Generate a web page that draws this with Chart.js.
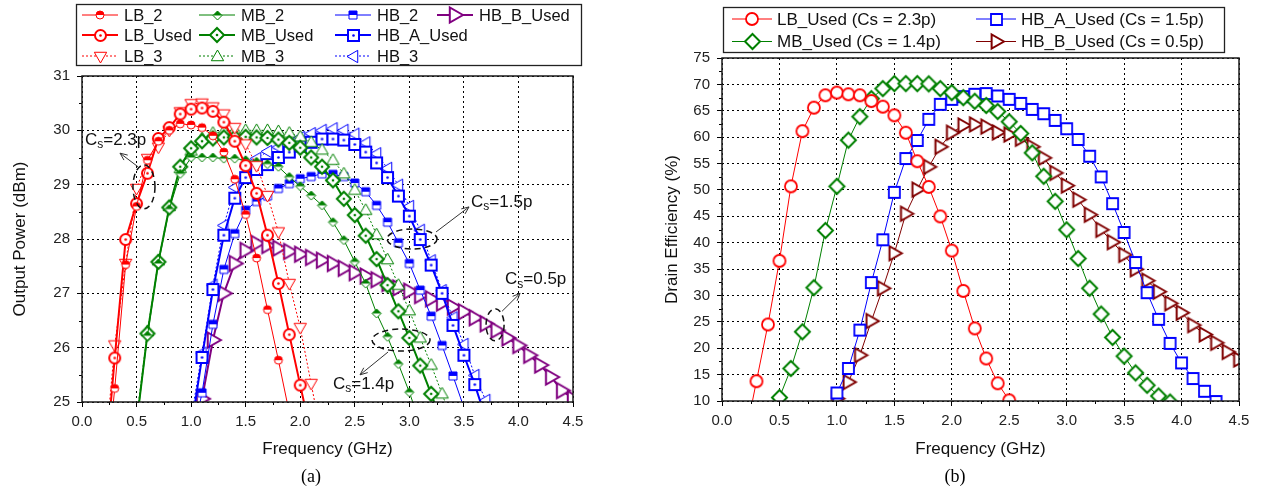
<!DOCTYPE html>
<html>
<head>
<meta charset="utf-8">
<script src="https://cdn.jsdelivr.net/npm/chart.js@4.4.0/dist/chart.umd.min.js"></script>
<style>
  body { margin: 0; background: #fff; width: 1266px; height: 491px; overflow: hidden; position: relative; }
  canvas { position: absolute; top: 0; }
  .cap { position: absolute; top: 466px; width: 40px; text-align: center; font: 18px "Liberation Serif", "Times New Roman", serif; color: #000; }
</style>
</head>
<body>
<canvas id="powerChart" width="633" height="491" style="left:0"></canvas>
<canvas id="effChart" width="633" height="491" style="left:633px"></canvas>
<div class="cap" style="left:291px">(a)</div>
<div class="cap" style="left:935px">(b)</div>
<script>
// ---- (a) output power, dBm ----
var lb2Freq = [0.2,0.3,0.4,0.5,0.6,0.7,0.8,0.9,1.0,1.1,1.2,1.3,1.4,1.5,1.6,1.7,1.8,1.9];
var lb2Pout = [23.2,25.25,27.53,28.6,29.45,29.8,30.0,30.12,30.1,30.05,29.9,29.6,29.1,28.45,27.65,26.7,25.77,24.8];
var lbUsedFreq = [0.2,0.3,0.4,0.5,0.6,0.7,0.8,0.9,1.0,1.1,1.2,1.3,1.4,1.5,1.6,1.7,1.8,1.9,2.0,2.1];
var lbUsedPout = [23.5,25.81,27.99,28.65,29.21,29.85,30.05,30.3,30.39,30.41,30.35,30.15,29.8,29.35,28.84,28.07,27.18,26.24,25.31,24.4];
var lb3Freq = [0.2,0.3,0.4,0.5,0.6,0.7,0.8,0.9,1.0,1.1,1.2,1.3,1.4,1.5,1.6,1.7,1.8,1.9,2.0,2.1,2.2];
var lb3Pout = [23.8,26.05,27.55,28.93,29.48,29.69,30.0,30.34,30.49,30.5,30.43,30.3,30.05,29.75,29.35,28.8,28.13,27.18,26.37,25.34,24.3];

var mb2Freq = [0.5,0.6,0.7,0.8,0.9,1.0,1.1,1.2,1.3,1.4,1.5,1.6,1.7,1.8,1.9,2.0,2.1,2.2,2.3,2.4,2.5,2.6,2.7,2.8,2.9,3.0,3.1];
var mb2Pout = [24.6,26.22,27.55,28.55,29.2,29.5,29.5,29.5,29.48,29.48,29.45,29.42,29.38,29.33,29.14,28.97,28.8,28.62,28.31,27.98,27.58,27.18,26.63,26.2,25.7,25.18,24.6];
var mbUsedFreq = [0.5,0.6,0.7,0.8,0.9,1.0,1.1,1.2,1.3,1.4,1.5,1.6,1.7,1.8,1.9,2.0,2.1,2.2,2.3,2.4,2.5,2.6,2.7,2.8,2.9,3.0,3.1,3.2,3.3];
var mbUsedPout = [24.6,26.26,27.58,28.58,29.33,29.67,29.8,29.85,29.87,29.87,29.88,29.87,29.86,29.83,29.77,29.68,29.5,29.33,29.08,28.74,28.44,28.06,27.63,27.15,26.67,26.18,25.67,25.15,24.6];
var mb3Freq = [0.5,0.6,0.7,0.8,0.9,1.0,1.1,1.2,1.3,1.4,1.5,1.6,1.7,1.8,1.9,2.0,2.1,2.2,2.3,2.4,2.5,2.6,2.7,2.8,2.9,3.0,3.1,3.2,3.3,3.4];
var mb3Pout = [24.7,26.3,27.6,28.6,29.3,29.62,29.85,29.95,29.98,30.0,30.0,30.0,30.0,29.98,29.95,29.88,29.78,29.64,29.45,29.2,28.9,28.53,28.08,27.62,27.15,26.68,26.18,25.68,25.15,24.6];

var hb2Freq = [1.0,1.1,1.2,1.3,1.4,1.5,1.6,1.7,1.8,1.9,2.0,2.1,2.2,2.3,2.4,2.5,2.6,2.7,2.8,2.9,3.0,3.1,3.2,3.3,3.4,3.5];
var hb2Pout = [24.2,25.17,26.43,27.44,28.1,28.53,28.69,28.79,28.93,29.02,29.11,29.15,29.2,29.19,29.15,29.03,28.87,28.62,28.31,27.93,27.55,27.06,26.58,26.04,25.48,24.9];
var hbAUsedFreq = [1.0,1.1,1.2,1.3,1.4,1.5,1.6,1.7,1.8,1.9,2.0,2.1,2.2,2.3,2.4,2.5,2.6,2.7,2.8,2.9,3.0,3.1,3.2,3.3,3.4,3.5,3.6,3.7];
var hbAUsedPout = [24.5,25.82,27.07,28.07,28.75,29.13,29.28,29.37,29.5,29.6,29.71,29.78,29.84,29.84,29.82,29.74,29.6,29.4,29.13,28.79,28.42,27.99,27.52,27.0,26.41,25.86,25.32,24.7];
var hb3Freq = [1.0,1.1,1.2,1.3,1.4,1.5,1.6,1.7,1.8,1.9,2.0,2.1,2.2,2.3,2.4,2.5,2.6,2.7,2.8,2.9,3.0,3.1,3.2,3.3,3.4,3.5,3.6,3.7,3.8];
var hb3Pout = [24.7,25.9,27.15,28.25,28.95,29.34,29.48,29.61,29.69,29.8,29.87,29.94,30.0,30.03,30.0,29.93,29.77,29.57,29.3,28.99,28.6,28.16,27.6,27.05,26.55,26.06,25.49,25.03,24.5];
var hbBUsedFreq = [1.0,1.1,1.2,1.3,1.4,1.5,1.6,1.7,1.8,1.9,2.0,2.1,2.2,2.3,2.4,2.5,2.6,2.7,2.8,2.9,3.0,3.1,3.2,3.3,3.4,3.5,3.6,3.7,3.8,3.9,4.0,4.1,4.2,4.3,4.4,4.5];
var hbBUsedPout = [23.8,25.06,26.14,27.0,27.55,27.79,27.92,27.88,27.83,27.77,27.72,27.66,27.61,27.55,27.46,27.38,27.32,27.25,27.18,27.1,27.04,26.96,26.9,26.82,26.75,26.66,26.55,26.44,26.32,26.18,26.04,25.86,25.68,25.46,25.21,25.06];

// ---- (b) drain efficiency, % ----
var lbEffFreq = [0.2,0.3,0.4,0.5,0.6,0.7,0.8,0.9,1.0,1.1,1.2,1.3,1.4,1.5,1.6,1.7,1.8,1.9,2.0,2.1,2.2,2.3,2.4,2.5];
var lbEff = [3.0,13.75,24.5,36.56,50.68,61.14,65.59,67.93,68.44,68.12,67.93,66.85,65.78,64.13,60.84,55.44,50.57,44.98,38.5,30.86,23.76,18.06,13.36,10.13];
var mbEffFreq = [0.4,0.5,0.6,0.7,0.8,0.9,1.0,1.1,1.2,1.3,1.4,1.5,1.6,1.7,1.8,1.9,2.0,2.1,2.2,2.3,2.4,2.5,2.6,2.7,2.8,2.9,3.0,3.1,3.2,3.3,3.4,3.5,3.6,3.7,3.8,3.9];
var mbEff = [6.0,10.65,16.16,23.12,31.48,42.3,50.68,59.43,63.88,67.3,69.2,70.15,70.15,70.15,70.1,69.2,68.44,67.49,66.8,66.0,64.85,62.93,60.7,57.03,52.59,47.83,42.45,37.0,31.37,26.48,22.05,18.5,15.32,12.98,10.95,9.8];
var hbAEffFreq = [0.9,1.0,1.1,1.2,1.3,1.4,1.5,1.6,1.7,1.8,1.9,2.0,2.1,2.2,2.3,2.4,2.5,2.6,2.7,2.8,2.9,3.0,3.1,3.2,3.3,3.4,3.5,3.6,3.7,3.8,3.9,4.0,4.1,4.2,4.3];
var hbAEff = [7.0,11.52,16.16,23.44,32.44,40.55,49.54,55.95,59.37,63.37,66.22,67.17,67.68,68.12,68.25,67.8,67.17,66.4,65.26,64.44,63.17,61.6,59.56,56.39,52.47,47.4,41.94,36.24,30.53,25.48,20.91,17.22,14.26,11.84,9.9];
var hbBEffFreq = [0.9,1.0,1.1,1.2,1.3,1.4,1.5,1.6,1.7,1.8,1.9,2.0,2.1,2.2,2.3,2.4,2.5,2.6,2.7,2.8,2.9,3.0,3.1,3.2,3.3,3.4,3.5,3.6,3.7,3.8,3.9,4.0,4.1,4.2,4.3,4.4,4.5];
var hbBEff = [7.3,10.46,13.6,18.69,25.15,31.37,38.0,45.49,50.06,54.37,58.17,60.84,62.22,62.41,62.0,60.9,60.5,59.7,58.17,56.08,53.23,50.82,48.16,45.3,42.45,40.1,37.7,34.97,32.81,30.72,28.52,26.73,24.39,22.62,21.03,19.32,17.87];

var freqTicks = { min: 0, max: 4.5, step: 0.5 };
var poutTicks = { min: 25, max: 31, step: 1 };
var effTicks = { min: 10, max: 75, step: 5 };

var FONT = '"Liberation Sans", Arial, sans-serif';
Chart.defaults.font.family = FONT;
Chart.defaults.color = '#000';

var RED = '#ff0000', GREEN = '#008000', BLUE = '#0000ff', PURPLE = '#800080', MAROON = '#800000';

// outline of a marker, centred on 0,0
function tracePath(g, shape, r) {
  g.beginPath();
  if (shape == 'circle') g.arc(0, 0, r, 0, Math.PI * 2);
  else if (shape == 'square') g.rect(-r, -r, 2 * r, 2 * r);
  else if (shape == 'diamond') { g.moveTo(0, -r); g.lineTo(r, 0); g.lineTo(0, r); g.lineTo(-r, 0); }
  else if (shape == 'up') { g.moveTo(0, -r); g.lineTo(0.95 * r, 0.65 * r); g.lineTo(-0.95 * r, 0.65 * r); }
  else if (shape == 'down') { g.moveTo(0, r); g.lineTo(0.95 * r, -0.65 * r); g.lineTo(-0.95 * r, -0.65 * r); }
  else if (shape == 'left') { g.moveTo(-r, 0); g.lineTo(0.65 * r, -0.95 * r); g.lineTo(0.65 * r, 0.95 * r); }
  else if (shape == 'right') { g.moveTo(r, 0); g.lineTo(-0.65 * r, -0.95 * r); g.lineTo(-0.65 * r, 0.95 * r); }
  g.closePath();
}

// small canvas used as a pointStyle: hollow, dotted centre or top-half filled
function marker(shape, color, r, lw, fill) {
  var size = Math.ceil(2 * r + 2 * lw + 2);
  var c = document.createElement('canvas');
  c.width = size; c.height = size;
  var g = c.getContext('2d');
  g.translate(size / 2, size / 2);
  tracePath(g, shape, r);
  g.fillStyle = '#fff'; g.fill();
  if (fill == 'half') {
    g.save();
    tracePath(g, shape, r); g.clip();
    g.fillStyle = color; g.fillRect(-size, -size, 2 * size, size);
    g.restore();
  }
  g.lineWidth = lw; g.strokeStyle = color; g.lineJoin = 'miter';
  tracePath(g, shape, r); g.stroke();
  if (fill == 'dot') {
    g.beginPath(); g.arc(0, 0, 1.3, 0, Math.PI * 2);
    g.fillStyle = color; g.fill();
  }
  return c;
}

function series(label, xs, ys, color, width, dash, mark) {
  return {
    label: label,
    data: xs.map(function (x, i) { return { x: x, y: ys[i] }; }),
    borderColor: color, backgroundColor: color,
    borderWidth: width, borderDash: dash,
    pointStyle: mark, pointRadius: mark.width / 2, pointHoverRadius: mark.width / 2,
    tension: 0
  };
}

function axes(yt, yTitle, yWidth, yTitlePad, xHeight) {
  var gridLine = { color: '#000', lineWidth: 1, drawTicks: true, tickLength: 5, tickColor: '#000', tickBorderDash: [] };
  return {
    x: {
      type: 'linear', min: freqTicks.min, max: freqTicks.max,
      ticks: { stepSize: freqTicks.step, autoSkip: false, maxRotation: 0, padding: 6,
        font: { size: 15 }, color: '#222', callback: function (v) { return v.toFixed(1); } },
      grid: gridLine,
      border: { display: false, dash: [2, 3] },
      title: { display: true, text: 'Frequency (GHz)', font: { size: 17 }, color: '#111', padding: { top: 0, bottom: 31 } },
      afterFit: function (s) { s.height = xHeight; }
    },
    y: {
      min: yt.min, max: yt.max,
      ticks: { stepSize: yt.step, autoSkip: false, padding: 7, font: { size: 15 }, color: '#222' },
      grid: gridLine,
      border: { display: false, dash: [2, 3] },
      title: { display: true, text: yTitle, font: { size: 17 }, color: '#111', padding: { top: yTitlePad, bottom: 0 } },
      afterFit: function (s) { s.width = yWidth; }
    }
  };
}

// frame round the plot plus the small minor ticks between labels
var frameTicks = {
  id: 'frameTicks',
  afterDatasetsDraw: function (chart) {
    var ctx = chart.ctx, a = chart.chartArea, x = chart.scales.x, y = chart.scales.y;
    function mids(s) { return s.ticks.slice(1).map(function (t, i) { return (t.value + s.ticks[i].value) / 2; }); }
    ctx.save();
    ctx.strokeStyle = '#000'; ctx.lineWidth = 1;
    ctx.beginPath();
    mids(x).forEach(function (v) { var p = Math.round(x.getPixelForValue(v)) + 0.5; ctx.moveTo(p, a.bottom); ctx.lineTo(p, a.bottom + 3); });
    mids(y).forEach(function (v) { var p = Math.round(y.getPixelForValue(v)) + 0.5; ctx.moveTo(a.left, p); ctx.lineTo(a.left - 3, p); });
    ctx.stroke();
    ctx.lineWidth = 1.5; ctx.strokeStyle = '#1a1a1a';
    ctx.strokeRect(a.left, a.top, a.right - a.left, a.bottom - a.top);
    ctx.restore();
  }
};

function boxLegend(cfg) {
  return {
    id: 'boxLegend',
    afterDraw: function (chart) {
      var ctx = chart.ctx;
      ctx.save();
      ctx.lineWidth = 1.3; ctx.strokeStyle = '#222';
      ctx.strokeRect(cfg.box[0] + 0.5, cfg.box[1] + 0.5, cfg.box[2], cfg.box[3]);
      ctx.font = cfg.font; ctx.textBaseline = 'middle'; ctx.fillStyle = '#111';
      cfg.slots.forEach(function (slot) {
        var ds = chart.data.datasets.filter(function (d) { return d.label == slot[0]; })[0];
        var x0 = cfg.cols[slot[1]], yy = cfg.rows[slot[2]];
        ctx.save();
        ctx.strokeStyle = ds.borderColor; ctx.lineWidth = ds.borderWidth;
        ctx.setLineDash(ds.borderDash || []);
        ctx.beginPath(); ctx.moveTo(x0, yy); ctx.lineTo(x0 + cfg.lineLen, yy); ctx.stroke();
        ctx.restore();
        var img = ds.pointStyle;
        ctx.drawImage(img, Math.round(x0 + cfg.lineLen / 2 - img.width / 2), Math.round(yy - img.height / 2));
        ctx.fillText(slot[0], x0 + cfg.textGap, yy + 1);
      });
      ctx.restore();
    }
  };
}

// dashed rings with arrows and the C_s labels, placed in data units
var csNotes = [
  { value: '=2.3p', ring: [0.568, 28.96], rx: 11, ry: 22, tail: [0.513, 29.33], head: [0.348, 29.58], at: [0.027, 29.82] },
  { value: '=1.5p', ring: [3.025, 28.0], rx: 25, ry: 10, tail: [3.245, 28.13], head: [3.547, 28.59], at: [3.566, 28.68] },
  { value: '=0.5p', ring: [3.786, 26.42], rx: 9, ry: 16, tail: [3.85, 26.67], head: [4.015, 27.0], at: [3.877, 27.26] },
  { value: '=1.4p', ring: [2.924, 26.14], rx: 29, ry: 11, tail: [2.805, 25.92], head: [2.548, 25.5], at: [2.3, 25.33] }
];

var csMarks = {
  id: 'csMarks',
  afterDatasetsDraw: function (chart) {
    var ctx = chart.ctx, x = chart.scales.x, y = chart.scales.y;
    function px(p) { return [x.getPixelForValue(p[0]), y.getPixelForValue(p[1])]; }
    ctx.save();
    csNotes.forEach(function (n) {
      var c = px(n.ring), t = px(n.tail), h = px(n.head), l = px(n.at);
      ctx.strokeStyle = '#111'; ctx.lineWidth = 1.5; ctx.setLineDash([6, 4]);
      ctx.beginPath(); ctx.ellipse(c[0], c[1], n.rx, n.ry, 0, 0, Math.PI * 2); ctx.stroke();
      ctx.setLineDash([]); ctx.lineWidth = 1; ctx.strokeStyle = '#333';
      var ang = Math.atan2(h[1] - t[1], h[0] - t[0]);
      ctx.beginPath(); ctx.moveTo(t[0], t[1]); ctx.lineTo(h[0], h[1]);
      ctx.moveTo(h[0] - 8 * Math.cos(ang - 0.4), h[1] - 8 * Math.sin(ang - 0.4)); ctx.lineTo(h[0], h[1]);
      ctx.lineTo(h[0] - 8 * Math.cos(ang + 0.4), h[1] - 8 * Math.sin(ang + 0.4));
      ctx.stroke();
      ctx.fillStyle = '#111'; ctx.textBaseline = 'middle';
      ctx.font = '17px ' + FONT; ctx.fillText('C', l[0], l[1]);
      var wc = ctx.measureText('C').width;
      ctx.font = '12px ' + FONT; ctx.fillText('s', l[0] + wc, l[1] + 5);
      var ws = ctx.measureText('s').width;
      ctx.font = '17px ' + FONT; ctx.fillText(n.value, l[0] + wc + ws, l[1]);
    });
    ctx.restore();
  }
};

var baseOpts = {
  responsive: false, animation: false, events: [],
  plugins: { legend: { display: false }, tooltip: { enabled: false } }
};

new Chart(document.getElementById('powerChart'), {
  type: 'line',
  data: {
    datasets: [
      series('LB_2', lb2Freq, lb2Pout, RED, 1, [], marker('circle', RED, 4, 1, 'half')),
      series('LB_Used', lbUsedFreq, lbUsedPout, RED, 2, [], marker('circle', RED, 5.5, 2, 'dot')),
      series('LB_3', lb3Freq, lb3Pout, RED, 1, [2, 2], marker('down', RED, 6.5, 1, 'none')),
      series('MB_2', mb2Freq, mb2Pout, GREEN, 1, [], marker('diamond', GREEN, 4.5, 1, 'half')),
      series('MB_Used', mbUsedFreq, mbUsedPout, GREEN, 2, [], marker('diamond', GREEN, 7, 2, 'dot')),
      series('MB_3', mb3Freq, mb3Pout, GREEN, 1, [2, 2], marker('up', GREEN, 6.5, 1, 'none')),
      series('HB_2', hb2Freq, hb2Pout, BLUE, 1, [], marker('square', BLUE, 4, 1, 'half')),
      series('HB_A_Used', hbAUsedFreq, hbAUsedPout, BLUE, 2, [], marker('square', BLUE, 5.5, 2, 'dot')),
      series('HB_3', hb3Freq, hb3Pout, BLUE, 1, [2, 2], marker('left', BLUE, 6.5, 1, 'none')),
      series('HB_B_Used', hbBUsedFreq, hbBUsedPout, PURPLE, 2, [], marker('right', PURPLE, 8, 2, 'none'))
    ]
  },
  options: Object.assign({}, baseOpts, {
    layout: { padding: { left: 0, top: 76, right: 60, bottom: 0 } },
    scales: axes(poutTicks, 'Output Power (dBm)', 82, 10, 89)
  }),
  plugins: [frameTicks, csMarks, boxLegend({
    box: [76, 4, 505, 61], cols: [82, 199, 335, 437], rows: [15, 35, 56],
    lineLen: 36, textGap: 42, font: '16.5px ' + FONT,
    slots: [['LB_2', 0, 0], ['MB_2', 1, 0], ['HB_2', 2, 0], ['HB_B_Used', 3, 0],
            ['LB_Used', 0, 1], ['MB_Used', 1, 1], ['HB_A_Used', 2, 1],
            ['LB_3', 0, 2], ['MB_3', 1, 2], ['HB_3', 2, 2]]
  })]
});

new Chart(document.getElementById('effChart'), {
  type: 'line',
  data: {
    datasets: [
      series('LB_Used (Cs = 2.3p)', lbEffFreq, lbEff, RED, 1, [], marker('circle', RED, 6, 1.8, 'none')),
      series('MB_Used (Cs = 1.4p)', mbEffFreq, mbEff, GREEN, 1, [], marker('diamond', GREEN, 7.5, 2, 'none')),
      series('HB_A_Used (Cs = 1.5p)', hbAEffFreq, hbAEff, BLUE, 1, [], marker('square', BLUE, 5.5, 1.8, 'none')),
      series('HB_B_Used (Cs = 0.5p)', hbBEffFreq, hbBEff, MAROON, 1, [], marker('right', MAROON, 7.5, 2, 'none'))
    ]
  },
  options: Object.assign({}, baseOpts, {
    layout: { padding: { left: 0, top: 58, right: 27, bottom: 0 } },
    scales: axes(effTicks, 'Drain Efficiency (%)', 89, 29, 90)
  }),
  plugins: [frameTicks, boxLegend({
    box: [90, 7, 501, 45], cols: [99, 343], rows: [19, 41.5],
    lineLen: 40, textGap: 45, font: '17px ' + FONT,
    slots: [['LB_Used (Cs = 2.3p)', 0, 0], ['HB_A_Used (Cs = 1.5p)', 1, 0],
            ['MB_Used (Cs = 1.4p)', 0, 1], ['HB_B_Used (Cs = 0.5p)', 1, 1]]
  })]
});
</script>
</body>
</html>
